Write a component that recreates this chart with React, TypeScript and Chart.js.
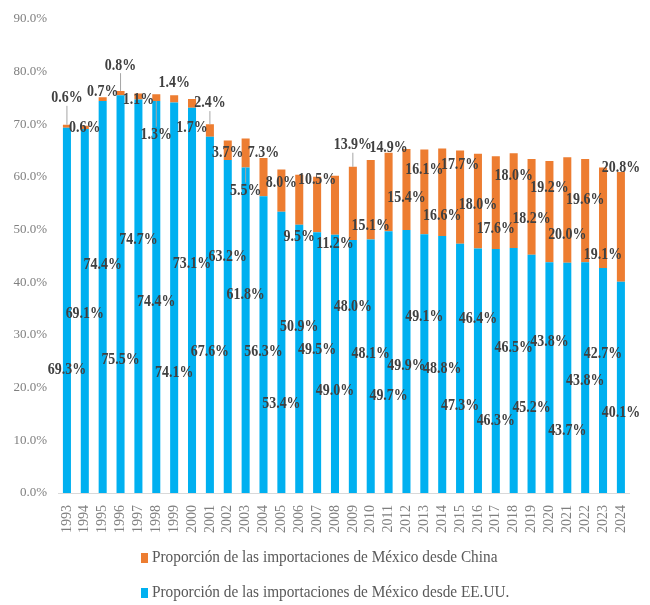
import React, { useEffect, useRef } from "react";
import { Chart, registerables } from "chart.js";

Chart.register(...registerables);

const years = [
  "1993", "1994", "1995", "1996", "1997", "1998", "1999", "2000",
  "2001", "2002", "2003", "2004", "2005", "2006", "2007", "2008",
  "2009", "2010", "2011", "2012", "2013", "2014", "2015", "2016",
  "2017", "2018", "2019", "2020", "2021", "2022", "2023", "2024",
];

const usShare = [
  69.3, 69.1, 74.4, 75.5, 74.7, 74.4, 74.1, 73.1,
  67.6, 63.2, 61.8, 56.3, 53.4, 50.9, 49.5, 49.0,
  48.0, 48.1, 49.7, 49.9, 49.1, 48.8, 47.3, 46.4,
  46.3, 46.5, 45.2, 43.8, 43.7, 43.8, 42.7, 40.1,
];

const chinaShare = [
  0.6, 0.6, 0.7, 0.8, 1.1, 1.3, 1.4, 1.7,
  2.4, 3.7, 5.5, 7.3, 8.0, 9.5, 10.5, 11.2,
  13.9, 15.1, 14.9, 15.4, 16.1, 16.6, 17.7, 18.0,
  17.6, 18.0, 18.2, 19.2, 20.0, 19.6, 19.1, 20.8,
];

// Where each value label sits, in axis units (%)
const usLabelAt = [
  23.5, 34.1, 43.3, 25.4, 48.0, 36.3, 22.8, 43.5,
  26.9, 44.8, 37.7, 26.9, 16.9, 31.6, 27.3, 19.4,
  35.4, 26.4, 18.5, 24.1, 33.5, 23.7, 16.6, 33.1,
  13.7, 27.5, 16.2, 28.8, 11.9, 21.3, 26.4, 15.3,
];

const chinaLabelAt = [
  75.0, 69.3, 76.1, 81.2, 74.6, 68.0, 77.8, 69.3,
  74.0, 64.6, 57.4, 64.6, 58.9, 48.6, 59.5, 47.3,
  66.1, 50.8, 65.5, 56.1, 61.4, 52.7, 62.3, 54.8,
  50.1, 60.3, 52.0, 58.0, 49.0, 55.6, 45.2, 61.8,
];

const seriesNames = [
  "Proporción de las importaciones de México desde China",
  "Proporción de las importaciones de México desde EE.UU.",
];

const BLUE = "#00B0F0";
const ORANGE = "#ED7D31";
const SERIF = '"Liberation Serif", "DejaVu Serif", serif';

const labelPlugin = {
  id: "valueLabels",
  afterDatasetsDraw(chart: any) {
    const ctx = chart.ctx;
    const yScale = chart.scales.y;
    const groups = [
      { ds: 0, at: usLabelAt, vals: usShare },
      { ds: 1, at: chinaLabelAt, vals: chinaShare },
    ];
    ctx.save();
    ctx.font = `bold 17px ${SERIF}`;
    ctx.textAlign = "center";
    ctx.textBaseline = "middle";
    groups.forEach(({ ds, at, vals }) => {
      const meta = chart.getDatasetMeta(ds);
      meta.data.forEach((bar: any, i: number) => {
        const x = bar.x;
        const ly = yScale.getPixelForValue(at[i]);
        if (ds === 1) {
          const base = usShare[i];
          const top = usShare[i] + chinaShare[i];
          const above = at[i] > top;
          const d = above ? at[i] - top : at[i] < base ? base - at[i] : 0;
          if (d > 3.9) {
            const ty = yScale.getPixelForValue(above ? top : base);
            const sy = above ? ly + 8 : ly - 8;
            ctx.strokeStyle = "#a6a6a6";
            ctx.lineWidth = 1;
            ctx.beginPath();
            ctx.moveTo(x, sy);
            ctx.lineTo(x, ty);
            ctx.stroke();
          }
        }
        ctx.fillStyle = "#404040";
        ctx.save();
        ctx.translate(x, ly);
        ctx.scale(0.82, 1);
        ctx.fillText(vals[i].toFixed(1) + "%", 0, 0);
        ctx.restore();
      });
    });
    ctx.restore();
  },
};

const legendPlugin = {
  id: "stackedLegend",
  afterDraw(chart: any) {
    const ctx = chart.ctx;
    const items = [
      { text: seriesNames[0], color: ORANGE, y: 558 },
      { text: seriesNames[1], color: BLUE, y: 593 },
    ];
    ctx.save();
    ctx.font = `17px ${SERIF}`;
    ctx.textAlign = "left";
    ctx.textBaseline = "middle";
    items.forEach((it) => {
      ctx.fillStyle = it.color;
      ctx.fillRect(141, it.y - 5, 7, 10);
      ctx.fillStyle = "#595959";
      ctx.save();
      ctx.translate(152, it.y);
      ctx.scale(0.9, 1);
      ctx.fillText(it.text, 0, 0);
      ctx.restore();
    });
    ctx.restore();
  },
};

export default function App() {
  const ref = useRef<HTMLCanvasElement | null>(null);

  useEffect(() => {
    if (!ref.current) return;
    const chart = new Chart(ref.current, {
      type: "bar",
      data: {
        labels: years,
        datasets: [
          {
            label: seriesNames[1],
            data: usShare,
            backgroundColor: BLUE,
            barPercentage: 0.45,
            categoryPercentage: 1,
          },
          {
            label: seriesNames[0],
            data: chinaShare,
            backgroundColor: ORANGE,
            barPercentage: 0.45,
            categoryPercentage: 1,
          },
        ],
      },
      options: {
        animation: false,
        responsive: true,
        maintainAspectRatio: false,
        layout: { padding: { top: 15, right: 19, bottom: 60, left: 0 } },
        plugins: {
          legend: { display: false },
          tooltip: { enabled: false },
        },
        scales: {
          x: {
            stacked: true,
            grid: { display: false, drawTicks: false },
            border: { display: true, color: "#d9d9d9", width: 1 },
            ticks: {
              minRotation: 90,
              maxRotation: 90,
              autoSkip: false,
              padding: 12,
              color: "#7f7f7f",
              font: { family: SERIF, size: 14 },
            },
            afterFit: (s: any) => {
              s.height = 52;
            },
          },
          y: {
            stacked: true,
            min: 0,
            max: 90,
            ticks: {
              stepSize: 10,
              padding: 11,
              color: "#7f7f7f",
              font: { family: SERIF, size: 13 },
              callback: (v: any) => Number(v).toFixed(1) + "%",
            },
            grid: { display: false, drawTicks: false },
            border: { display: false },
            afterFit: (s: any) => {
              s.width = 58;
            },
          },
        },
      },
      plugins: [labelPlugin, legendPlugin],
    });
    return () => chart.destroy();
  }, []);

  return (
    <div style={{ position: "absolute", left: 0, top: 0, width: 650, height: 605 }}>
      <canvas ref={ref} />
    </div>
  );
}
